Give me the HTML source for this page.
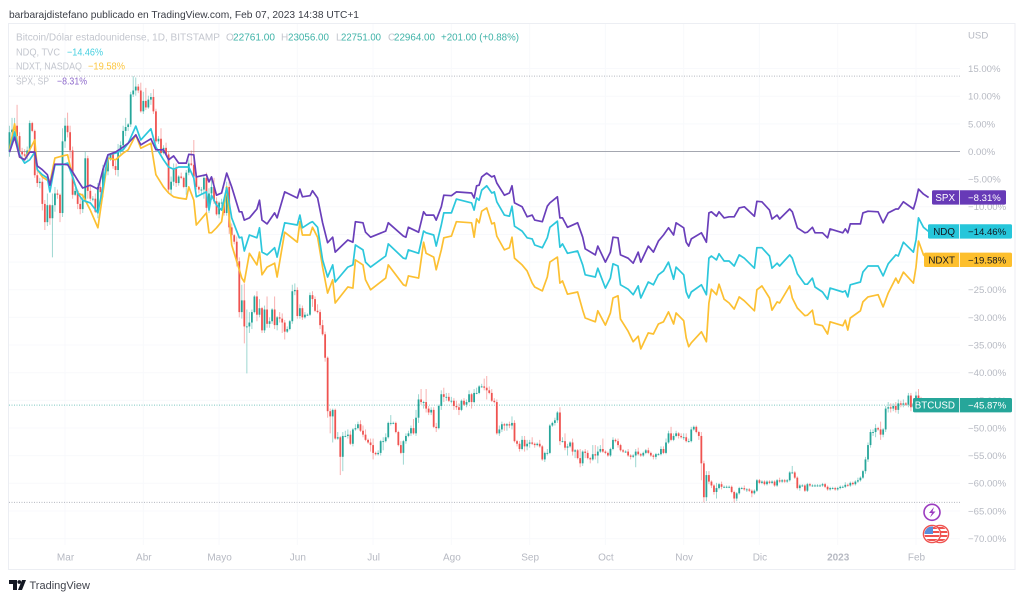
<!DOCTYPE html>
<html lang="es">
<head>
<meta charset="utf-8">
<title>BTCUSD vs NDQ, NDXT, SPX</title>
<style>
html,body{margin:0;padding:0;background:#fff;width:1024px;height:600px;overflow:hidden}
svg{display:block}
text{font-family:"Liberation Sans",sans-serif}
</style>
</head>
<body>
<svg id="chart" width="1024" height="600" viewBox="0 0 1024 600" xmlns="http://www.w3.org/2000/svg">
  <rect x="0" y="0" width="1024" height="600" fill="#ffffff"/>
  <text x="9" y="18" font-size="10.5" fill="#3a3d46" textLength="350" lengthAdjust="spacingAndGlyphs">barbarajdistefano publicado en TradingView.com, Feb 07, 2023 14:38 UTC+1</text>
  <rect x="8.5" y="23.5" width="1006.5" height="546" fill="#ffffff" stroke="#eceef3" stroke-width="1"/>
  <g id="grid"></g>
  <g id="refLines"></g>
  <g id="candles"></g>
  <g id="lines"></g>

  <g font-size="10">
    <g>
      <text x="16" y="40.5" fill="#c3c6ce" textLength="204" lengthAdjust="spacingAndGlyphs">Bitcoin/Dólar estadounidense, 1D, BITSTAMP</text>
      <text x="226" y="40.5" fill="#c3c6ce">O</text><text x="233" y="40.5" fill="#3fb3a8" textLength="42" lengthAdjust="spacingAndGlyphs">22761.00</text>
      <text x="281" y="40.5" fill="#c3c6ce">H</text><text x="288" y="40.5" fill="#3fb3a8" textLength="41" lengthAdjust="spacingAndGlyphs">23056.00</text>
      <text x="336" y="40.5" fill="#c3c6ce">L</text><text x="341" y="40.5" fill="#3fb3a8" textLength="40" lengthAdjust="spacingAndGlyphs">22751.00</text>
      <text x="388" y="40.5" fill="#c3c6ce">C</text><text x="394" y="40.5" fill="#3fb3a8" textLength="41" lengthAdjust="spacingAndGlyphs">22964.00</text>
      <text x="441" y="40.5" fill="#3fb3a8" textLength="78" lengthAdjust="spacingAndGlyphs">+201.00 (+0.88%)</text>
    </g>
    <g>
      <text x="16" y="55.5" fill="#c3c6ce" textLength="44" lengthAdjust="spacingAndGlyphs">NDQ, TVC</text>
      <text x="67" y="55.5" fill="#45cfe0" textLength="36" lengthAdjust="spacingAndGlyphs">−14.46%</text>
    </g>
    <g>
      <text x="16" y="69.5" fill="#c3c6ce" textLength="66" lengthAdjust="spacingAndGlyphs">NDXT, NASDAQ</text>
      <text x="88" y="69.5" fill="#fcc63f" textLength="37" lengthAdjust="spacingAndGlyphs">−19.58%</text>
    </g>
    <g>
      <text x="16" y="84.5" fill="#c3c6ce" textLength="33" lengthAdjust="spacingAndGlyphs">SPX, SP</text>
      <text x="57" y="84.5" fill="#8d68cb" textLength="30" lengthAdjust="spacingAndGlyphs">−8.31%</text>
    </g>
  </g>

  <text x="968" y="38.5" font-size="9.6" fill="#b6b9c2">USD</text>
  <g id="yTicks"></g>
  <g id="xTicks"></g>
  <g id="tags"></g>

  <g>
    <circle cx="932" cy="512.3" r="8" fill="#ffffff" stroke="#9c3cc0" stroke-width="1.6"/>
    <path d="M934 507 L929 513 L932 513 L930 517.5 L935.5 511.5 L932.5 511.5 Z" fill="#9c3cc0"/>
  </g>
  <g>
    <defs>
      <clipPath id="flagA"><circle cx="940" cy="534" r="7.5"/></clipPath>
      <clipPath id="flagB"><circle cx="932" cy="534" r="7.5"/></clipPath>
    </defs>
    <circle cx="940" cy="534" r="8.6" fill="#ffffff" stroke="#ef5350" stroke-width="1.4"/>
    <g clip-path="url(#flagA)">
      <rect x="931" y="526" width="18" height="16" fill="#ffffff"/>
      <rect x="931" y="527" width="18" height="2" fill="#ef5350"/>
      <rect x="931" y="531" width="18" height="2" fill="#ef5350"/>
      <rect x="931" y="535" width="18" height="2" fill="#ef5350"/>
      <rect x="931" y="539" width="18" height="2" fill="#ef5350"/>
    </g>
    <circle cx="932" cy="534" r="8.6" fill="#ffffff" stroke="#ef5350" stroke-width="1.4"/>
    <g clip-path="url(#flagB)">
      <rect x="923" y="526" width="18" height="16" fill="#ffffff"/>
      <rect x="923" y="527" width="18" height="2" fill="#ef5350"/>
      <rect x="923" y="531" width="18" height="2" fill="#ef5350"/>
      <rect x="923" y="535" width="18" height="2" fill="#ef5350"/>
      <rect x="923" y="539" width="18" height="2" fill="#ef5350"/>
      <rect x="924" y="526" width="9" height="8" fill="#5a8fdc"/>
    </g>
  </g>

  <g>
    <path d="M9 580 H17 V590 H13 V584 H9 Z" fill="#131722"/>
    <circle cx="19.3" cy="582" r="1.9" fill="#131722"/>
    <path d="M22 580 H26 L22 590 H18 Z" fill="#131722"/>
    <text x="29.5" y="589" font-size="11" fill="#40434c" textLength="60.5" lengthAdjust="spacingAndGlyphs">TradingView</text>
  </g>
</svg>

<script>
var baseOpen = 42.42;
var btcFirstOpen = 42.42;

var btcClose = [
43.9,44.1,44.4,43.6,42.4,42.2,42.1,42.5,44.6,44.0,40.6,40.0,40.1,38.4,37.0,38.3,37.3,38.3,39.2,39.1,37.7,43.2,
44.4,43.9,42.5,39.1,39.4,38.4,38.0,38.7,41.9,39.4,38.8,38.8,37.8,39.7,39.3,41.1,40.9,41.8,42.2,41.3,41.0,42.4,42.9,44.0,44.3,44.5,46.8,47.1,47.4,47.1,45.5,
46.3,45.8,46.4,46.6,45.5,43.2,43.4,42.3,42.7,42.2,39.5,40.1,41.1,40.0,40.5,40.4,39.7,40.8,41.5,41.4,40.5,39.7,39.5,39.5,40.4,38.1,39.2,39.7,38.6,37.6,
38.5,38.5,37.7,39.7,36.6,36.0,35.5,34.0,30.1,31.0,29.0,29.0,29.3,30.1,31.3,29.9,30.4,28.7,30.3,29.2,29.4,30.3,29.1,29.7,29.6,29.3,28.6,28.8,29.4,31.7,31.8,
29.8,30.4,29.7,29.9,29.9,31.4,31.1,30.2,30.1,29.1,28.4,26.6,22.5,22.1,22.6,20.4,20.5,19.0,20.6,20.6,20.7,20.0,21.1,21.2,21.5,21.0,20.7,20.3,20.1,19.9,
19.3,19.2,19.3,20.2,20.2,20.5,21.6,21.6,21.6,20.9,19.9,19.3,20.2,20.6,20.8,21.2,20.8,22.0,23.4,23.2,23.2,22.7,22.4,22.6,21.3,21.2,22.9,23.8,23.6,23.6,23.3,
23.3,22.9,22.8,22.6,23.3,23.0,23.2,23.8,23.2,23.9,23.9,24.4,24.4,24.3,24.1,23.9,23.3,23.2,20.8,21.1,21.5,21.4,21.5,21.4,21.6,20.2,20.0,19.6,20.3,19.8,20.0,
20.1,20.0,19.9,20.0,19.8,18.8,19.3,19.3,21.4,21.6,21.8,22.4,20.2,20.2,19.7,19.8,20.1,19.4,19.5,18.9,18.5,19.4,19.3,18.9,18.8,19.2,19.1,19.4,19.6,19.4,
19.3,19.1,19.6,20.3,20.2,19.9,19.5,19.4,19.4,19.1,19.0,19.1,19.4,19.2,19.1,19.3,19.5,19.3,19.1,19.0,19.2,19.2,19.6,19.3,20.1,20.8,20.3,20.6,20.8,20.6,20.5,
20.5,20.2,20.2,21.1,21.3,20.9,20.6,18.5,15.9,17.6,17.1,16.8,16.3,16.6,16.9,16.7,16.7,16.7,16.7,16.3,15.8,16.2,16.6,16.6,16.5,16.5,16.4,16.2,16.4,17.2,
17.0,17.1,16.9,17.1,17.0,17.1,16.8,17.2,17.1,17.2,17.1,17.2,17.8,17.8,17.4,16.6,16.8,16.8,16.4,16.9,16.8,16.8,16.8,16.8,16.8,16.9,16.7,16.5,16.6,16.6,16.5,
16.6,16.7,16.7,16.85,16.8,17.0,16.9,17.1,17.2,17.4,17.9,18.8,19.9,20.9,20.9,21.2,21.1,20.7,21.1,22.7,22.8,22.7,22.9,22.6,23.1,23.0,23.1,23.0,23.7,22.8,23.1,
23.7,23.5,23.4,23.3,22.9,22.76,22.96
];

var btcWickUp = [
.5,.9,.6,1.6,.3,.3,.4,.3,.2,.1,.1,.5,.3,.5,.3,.9,.1,.9,.5,.3,.1,1.0,
.6,1.0,.5,.3,.2,.1,.6,.5,.5,.2,.4,.2,.4,.3,.6,.3,.1,.3,.1,.1,.4,.6,.3,.4,.7,.1,.2,1.1,.7,.2,.6,
.7,1.0,.3,.3,.6,.2,.2,.8,.2,.4,.2,.4,.4,.4,.1,.3,.1,.2,.3,1.0,1.9,.3,.1,.2,.2,.4,.4,.6,.7,.3,
.1,.3,.4,.4,.4,.3,.1,.4,.3,1.2,1.3,1.3,.8,.2,.1,.4,.7,.1,.3,1.0,.3,.1,1.0,.1,.4,.4,.2,.2,.1,.5,.5,
.2,.3,.2,.2,.1,.2,.3,.2,.5,.2,.4,.2,.1,.2,.1,.1,.4,.1,.3,.4,.4,.3,.1,.3,.2,.3,.4,.4,.1,.3,
.5,.1,.2,.1,.3,.3,.1,.6,.1,.1,.1,.3,.1,.2,.2,.2,.7,.6,.4,.8,.1,1.0,.2,.2,.2,.3,.1,.3,.5,.3,.3,
.3,.2,.4,.3,.1,.2,.2,.3,.1,.3,.4,.1,.2,.6,.9,.3,.3,.2,.2,.3,.2,.1,.1,.2,.5,.2,.1,.2,.3,.3,.3,
.2,.4,.1,.1,.3,.1,.1,.3,.1,.1,.2,.1,.4,.3,.6,.2,.1,.3,.1,.1,.7,.1,.2,.2,.1,.7,.7,.4,.3,.8,
.1,.1,.1,.2,.1,.2,.1,.1,.1,.2,.1,.1,.2,.3,.1,.1,.1,.2,.1,.1,.1,.1,.2,.2,.3,.2,.5,.2,.2,.1,.2,
.3,.3,.2,.2,.1,.1,.1,.3,.2,.3,.3,.1,.1,.4,.1,.2,.1,.1,.1,.1,.1,.1,.1,.1,.2,.1,.1,.1,.1,.1,
.1,.1,.1,.1,.1,.1,.1,.1,.2,.1,.1,.1,.1,.5,.1,.1,.1,.1,.1,.1,.1,.1,.1,.1,.1,.1,.1,.1,.1,.1,.1,
.1,.1,.1,.2,.1,.1,.1,.1,.2,.1,.1,.2,.2,.2,.2,.3,.1,.6,.1,.2,.4,.3,.2,.3,.3,.2,.3,.1,.2,.2,.1,
.3,.5,.1,.1,.1,.2,.3
];

var btcWickDown = [
.4,.3,.3,.5,.3,.3,.1,.3,.2,.1,.2,.3,.4,.5,.6,.3,.5,3.0,.5,.3,.7,.3,
.5,.4,.6,.3,.1,.4,.4,.3,.2,.6,.2,.2,.1,.5,.4,.4,.2,.3,.1,.2,.4,.5,.2,.3,.4,.3,.2,.2,.4,.2,.1,
.2,.2,.1,.4,.2,.1,.2,.2,.1,.1,.2,.4,.3,.3,.2,.1,.1,.6,.2,.1,.1,.2,.3,.3,.7,.4,.4,.5,.2,.1,
.3,.3,.2,.2,.5,.4,.2,.4,.4,.5,1.3,3.6,.5,.5,.1,.5,.2,.2,.2,.3,.3,.2,.3,.4,.3,.8,.6,.1,.1,.2,.3,
.2,.2,.2,.1,.1,.1,.6,.1,.1,.3,.1,.3,.5,1.3,2.0,.1,.1,1.4,1.1,.1,.2,.1,.2,.1,.1,.1,.2,.1,.1,.5,
.5,.1,.1,.2,.7,.1,.1,.2,.1,.1,.1,.1,.9,.2,.1,.2,.1,.2,.4,.2,.5,.3,.2,.2,.1,.3,.1,.3,.4,.3,.1,
.2,.3,.2,.4,.1,.1,.2,.1,.5,.1,.1,.1,.1,.2,.7,.1,.1,.1,.1,.2,.2,.4,.4,.2,.3,.1,.2,.2,.1,.4,.3,
.3,.1,.2,.1,.1,.1,.2,.2,.1,.1,.2,.2,.3,.1,.2,.6,.1,.3,.5,.1,.3,.2,.4,.1,.3,.1,.3,.6,.1,.1,
.1,.1,.1,.1,.1,.2,.1,.1,.1,.1,.2,.1,.9,.1,.1,.1,.1,.1,.1,.2,.2,.1,.1,.1,.1,.1,.1,.1,.1,.2,.1,
.2,.1,.1,.1,.1,.1,.3,1.3,.4,.3,.2,.2,.2,.5,.1,.2,.1,.1,.1,.1,.3,.2,.1,.1,.1,.2,.1,.3,.1,.1,
.1,.1,.1,.1,.1,.1,.1,.1,.1,.1,.1,.1,.1,.1,.1,.1,.2,.1,.1,.1,.1,.1,.1,.1,.1,.1,.1,.1,.1,.1,.1,
.1,.1,.1,.1,.1,.1,.1,.1,.1,.1,.1,.2,.2,.2,.3,.4,.1,.4,.2,.2,.3,.3,.2,.2,.3,.2,.2,.1,.2,.3,.1,
.2,.2,.3,.3,.1,.2,.2
];

var tradingDays = [
0,2,4,6,8,10,11,13,15,16,
18,21,23,25,27,29,32,35,37,39,
42,45,47,50,52,56,58,61,63,65,
67,70,71,73,74,78,79,80,82,84,
86,88,91,92,93,95,98,99,100,102,
105,106,109,114,115,116,119,120,122,124,
126,128,129,134,136,137,140,141,143,149,
150,156,157,158,162,164,165,168,169,171,
172,175,177,183,184,185,186,187,189,191,
192,193,196,198,199,200,203,205,207,208,
211,213,214,217,218,219,221,225,227,228,
232,233,236,238,239,241,242,245,247,249,
250,253,255,257,259,261,263,264,267,268,
269,270,274,276,277,278,280,281,283,285,
287,289,291,295,296,298,301,302,304,305,
309,310,312,315,316,318,319,322,324,325,
330,331,332,333,337,338,340,344,346,348,
351,352,354,358,359,360,362,364
];

var spxPct = [
-0.1,2.6,-1.0,-1.5,-0.1,-0.1,-2.6,-3.3,-4.2,-6.1,
-2.3,-2.3,-2.4,-3.7,-5.2,-6.6,-6.1,-6.8,-3.3,-0.6,
-0.1,0.8,1.5,3.0,1.2,2.3,0.3,0.3,-1.5,-0.8,
-2.1,-2.1,-0.5,-0.6,-4.6,-4.2,-5.5,-4.6,-7.9,-7.5,
-3.9,-6.4,-10.9,-10.9,-12.4,-12.0,-10.4,-8.8,-12.4,-13.1,
-11.1,-12.0,-7.3,-8.4,-6.8,-8.2,-8.0,-7.1,-8.4,-12.9,
-16.5,-15.5,-18.2,-16.0,-16.4,-12.7,-12.9,-14.6,-15.5,-14.4,
-12.9,-15.3,-15.5,-13.7,-14.6,-10.9,-11.5,-11.5,-12.4,-10.0,
-7.9,-8.0,-7.3,-7.5,-8.4,-6.2,-6.1,-4.6,-3.9,-4.6,
-4.4,-5.7,-7.9,-7.5,-6.2,-9.3,-10.0,-11.8,-11.5,-12.4,
-12.7,-9.9,-9.3,-8.2,-12.0,-12.0,-13.7,-12.9,-15.5,-17.6,
-18.7,-17.1,-20.0,-18.2,-15.5,-15.6,-18.7,-19.3,-20.2,-18.2,
-20.0,-17.1,-18.2,-16.2,-15.1,-13.8,-15.1,-12.9,-13.8,-16.4,
-17.1,-15.8,-14.7,-16.4,-11.1,-10.9,-11.7,-10.9,-12.0,-11.8,
-11.8,-10.2,-10.0,-11.7,-9.0,-9.1,-10.6,-12.2,-11.5,-12.2,
-10.4,-10.9,-13.8,-14.7,-14.6,-13.7,-14.7,-14.7,-15.6,-14.0,
-14.7,-14.0,-14.7,-13.1,-13.1,-11.1,-10.8,-10.9,-12.9,-11.1,
-10.4,-10.4,-9.1,-10.4,-8.8,-6.8,-7.7,-8.31
];

var ndqPct = [
-0.1,3.5,-0.6,-2.1,-1.5,-0.1,-3.3,-4.2,-4.8,-7.3,
-2.4,-2.4,-2.1,-4.6,-7.5,-8.8,-9.3,-11.1,-6.4,-0.6,
-0.3,0.3,1.5,4.6,2.1,4.1,0.8,-1.5,-2.8,-3.2,
-2.8,-2.8,-2.8,-4.8,-8.2,-7.3,-10.6,-7.9,-9.7,-10.6,
-6.6,-12.0,-15.6,-15.5,-18.0,-15.1,-15.6,-13.8,-18.2,-18.7,
-17.4,-19.1,-12.9,-13.3,-11.5,-13.8,-12.9,-12.7,-13.7,-19.6,
-22.7,-20.5,-23.6,-20.9,-20.5,-16.9,-17.8,-20.0,-20.9,-18.9,
-16.7,-19.3,-19.4,-17.8,-18.4,-14.4,-14.7,-15.1,-17.1,-13.3,
-11.1,-11.1,-8.6,-9.3,-10.6,-8.4,-8.8,-7.0,-6.2,-7.5,
-7.3,-9.1,-11.5,-11.7,-9.9,-13.5,-14.4,-15.6,-15.8,-16.9,
-17.4,-15.6,-13.7,-12.6,-17.3,-16.7,-18.4,-18.0,-20.5,-22.3,
-22.7,-21.1,-24.7,-22.9,-20.3,-20.7,-24.1,-24.9,-25.9,-24.3,
-26.5,-23.6,-24.1,-22.3,-21.6,-20.0,-23.1,-20.9,-22.3,-25.4,
-26.5,-25.4,-24.1,-25.9,-19.3,-18.9,-19.6,-18.5,-19.8,-19.8,
-20.7,-18.7,-19.3,-21.1,-17.4,-17.4,-18.9,-21.1,-20.2,-20.7,
-18.7,-19.3,-22.1,-24.0,-24.0,-22.9,-24.5,-25.4,-26.7,-24.7,
-25.4,-25.2,-26.3,-24.1,-23.6,-21.8,-20.7,-20.7,-22.5,-20.3,
-18.7,-18.9,-16.4,-18.2,-16.0,-12.0,-13.7,-14.46
];

var ndxtPct = [
0.3,5.0,-1.0,-1.5,0.3,2.1,-3.3,-4.6,-5.2,-5.7,
-1.2,-0.8,-0.6,-4.6,-7.5,-7.9,-10.6,-13.8,-7.5,-1.2,
-1.5,-0.3,0.3,3.0,0.6,1.5,-4.2,-6.4,-7.5,-8.2,
-8.4,-8.6,-6.4,-8.8,-13.3,-11.1,-14.7,-14.7,-13.8,-12.7,
-6.4,-16.9,-21.4,-22.9,-23.6,-18.4,-20.5,-18.2,-22.3,-20.9,
-20.2,-22.7,-14.6,-16.4,-12.7,-15.1,-15.1,-13.7,-15.5,-20.9,
-25.6,-23.2,-27.4,-24.5,-24.7,-19.6,-20.5,-23.2,-25.0,-22.9,
-20.5,-24.1,-24.3,-22.5,-22.9,-16.4,-18.4,-19.1,-21.4,-17.8,
-15.6,-15.3,-12.7,-12.9,-15.5,-12.2,-12.9,-10.8,-10.2,-13.1,
-12.9,-15.3,-17.8,-17.4,-15.5,-19.3,-20.5,-21.6,-23.8,-24.5,
-25.2,-22.7,-20.0,-19.1,-23.8,-23.4,-25.8,-25.4,-28.7,-30.1,
-30.8,-28.8,-31.4,-29.2,-26.5,-26.1,-30.3,-32.5,-34.4,-33.4,
-35.7,-32.8,-33.0,-31.2,-30.8,-29.0,-31.2,-29.2,-30.6,-33.7,
-35.3,-34.6,-32.6,-34.4,-27.4,-24.9,-25.9,-24.0,-26.7,-27.4,
-28.5,-26.3,-27.0,-28.8,-25.0,-24.3,-26.5,-28.7,-27.2,-27.4,
-24.3,-26.5,-28.3,-29.7,-29.6,-28.7,-31.2,-31.5,-33.0,-30.8,
-31.5,-30.5,-32.3,-30.1,-28.8,-27.2,-26.3,-25.9,-28.1,-25.6,
-22.9,-23.8,-21.8,-23.8,-20.9,-16.2,-18.7,-19.58
];

var yTickValues = [15,10,5,0,-5,-10,-15,-20,-25,-30,-35,-40,-45,-50,-55,-60,-65,-70];
var monthLabels = ["Mar","Abr","Mayo","Jun","Jul","Ago","Sep","Oct","Nov","Dic","2023","Feb"];
var monthDays = [22,53,83,114,144,175,206,236,267,297,328,359];
var seriesTagNames = ["SPX","NDQ","NDXT","BTCUSD"];
var seriesTagValues = ["−8.31%","−14.46%","−19.58%","−45.87%"];

var NS = "http://www.w3.org/2000/svg";
function xScale(day){ return 9.5 + day * 2.525; }
function yScale(pct){ return 151.5 - pct * 5.53; }
function btcPct(price){ return price / baseOpen * 100 - 100; }
function make(tag, attrs){
  var el = document.createElementNS(NS, tag);
  for (var k in attrs) el.setAttribute(k, attrs[k]);
  return el;
}
function fmtPct(v){
  var s = Math.abs(v).toFixed(2) + "%";
  return v < 0 ? "−" + s : s;
}

var grid = document.getElementById("grid");
yTickValues.forEach(function(v){
  var l = make("line", {x1:9, x2:960, y1:yScale(v), y2:yScale(v), stroke:"#f8f9fc", "stroke-width":1});
  
  
  grid.appendChild(l);
});
monthDays.forEach(function(d){
  var l = make("line", {x1:xScale(d), x2:xScale(d), y1:24, y2:545, stroke:"#f8f9fc", "stroke-width":1});
  
  
  grid.appendChild(l);
});

var allHighs = [], allLows = [], opens = [];
btcClose.forEach(function(c, i){
  var o = i === 0 ? btcFirstOpen : btcClose[i-1];
  opens.push(o);
  allHighs.push(Math.max(o, c) + btcWickUp[i]);
  allLows.push(Math.min(o, c) - btcWickDown[i]);
});
var maxP = btcPct(Math.max.apply(null, allHighs));
var minP = btcPct(Math.min.apply(null, allLows));
var lastP = btcPct(btcClose[btcClose.length-1]);

var ref = document.getElementById("refLines");
var zeroLine = make("line", {x1:9, x2:960, y1:yScale(0), y2:yScale(0), stroke:"#a4a7b0", "stroke-width":1});


ref.appendChild(zeroLine);
var highLine = make("line", {x1:9, x2:960, y1:yScale(maxP), y2:yScale(maxP), stroke:"#b5b8c0", "stroke-width":1, "stroke-dasharray":"1 1.5"});


ref.appendChild(highLine);
var lowLine = make("line", {x1:9, x2:960, y1:yScale(minP), y2:yScale(minP), stroke:"#b5b8c0", "stroke-width":1, "stroke-dasharray":"1 1.5"});


ref.appendChild(lowLine);
var lastLine = make("line", {x1:9, x2:960, y1:yScale(lastP), y2:yScale(lastP), stroke:"#7cc8c0", "stroke-width":1, "stroke-dasharray":"1 1.5"});


ref.appendChild(lastLine);

var candleGroup = document.getElementById("candles");
btcClose.forEach(function(c, i){
  var o = opens[i];
  var up = c >= o;
  var color = up ? "#26a69a" : "#ef5350";
  var x = xScale(i);
  var wick = make("line", {x1:x, x2:x, y1:yScale(btcPct(allHighs[i])), y2:yScale(btcPct(allLows[i])), stroke:color, "stroke-opacity":0.45, "stroke-width":1});
  
  
  candleGroup.appendChild(wick);
  var yTop = yScale(btcPct(Math.max(o, c)));
  var yBot = yScale(btcPct(Math.min(o, c)));
  var body = make("rect", {x:x-0.9, y:yTop, width:1.8, height:Math.max(yBot-yTop, 0.9), fill:color});
  
  
  candleGroup.appendChild(body);
});

function linePath(values){
  return values.map(function(v, i){
    return (i ? "L" : "M") + xScale(tradingDays[i]).toFixed(1) + " " + yScale(v).toFixed(1);
  }).join(" ");
}
var lineGroup = document.getElementById("lines");
var ndxtPath = make("path", {d:linePath(ndxtPct), fill:"none", stroke:"#fcc032", "stroke-width":1.7, "stroke-linejoin":"round"});


lineGroup.appendChild(ndxtPath);
var ndqPath = make("path", {d:linePath(ndqPct), fill:"none", stroke:"#2cc7dc", "stroke-width":1.7, "stroke-linejoin":"round"});


lineGroup.appendChild(ndqPath);
var spxPath = make("path", {d:linePath(spxPct), fill:"none", stroke:"#6a3fba", "stroke-width":1.7, "stroke-linejoin":"round"});


lineGroup.appendChild(spxPath);

var yGroup = document.getElementById("yTicks");
yTickValues.forEach(function(v){
  var t = make("text", {x:968, y:yScale(v)+3.4, "font-size":9.6, fill:"#b6b9c2"});
  t.textContent = fmtPct(v);
  
  
  yGroup.appendChild(t);
});

var xGroup = document.getElementById("xTicks");
monthLabels.forEach(function(m, i){
  var t = make("text", {x:xScale(monthDays[i])+0.5, y:560.5, "font-size":10, "text-anchor":"middle", fill:"#b6b9c2", "font-weight": m === "2023" ? "bold" : "normal"});
  t.textContent = m;
  
  
  xGroup.appendChild(t);
});

var tagLast = [spxPct[spxPct.length-1], ndqPct[ndqPct.length-1], ndxtPct[ndxtPct.length-1], lastP];
var tagColors = ["#673ab7","#26c6da","#fdbf2d","#26a69a"];
var tagText = ["#ffffff","#131722","#131722","#ffffff"];
var tagLeft = [932,928,924,913];
var tagRight = [1006,1012,1012,1012];
var tagGroup = document.getElementById("tags");
seriesTagNames.forEach(function(name, i){
  var cy = yScale(tagLast[i]);
  var g = make("g", {});
  
  
  var r = make("rect", {x:tagLeft[i], y:cy-7.2, width:tagRight[i]-tagLeft[i], height:14.4, rx:1.5, fill:tagColors[i]});
  
  
  g.appendChild(r);
  var sep = make("line", {x1:959.5, x2:959.5, y1:cy-7.2, y2:cy+7.2, stroke:"#ffffff", "stroke-width":0.8});
  
  
  g.appendChild(sep);
  var nameText = make("text", {x:955, y:cy+3.5, "font-size":9.8, "text-anchor":"end", fill:tagText[i]});
  nameText.textContent = name;
  
  
  g.appendChild(nameText);
  var valueText = make("text", {x:968, y:cy+3.5, "font-size":9.6, fill:tagText[i]});
  valueText.textContent = seriesTagValues[i];
  
  
  g.appendChild(valueText);
  tagGroup.appendChild(g);
});
</script>
</body>
</html>
